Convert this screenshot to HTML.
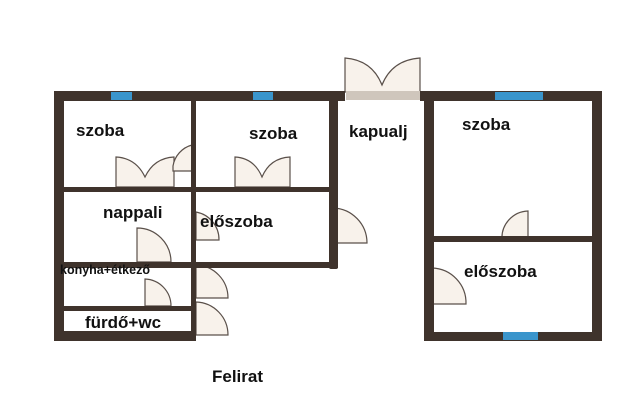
<!DOCTYPE html>
<html><head><meta charset="utf-8"><style>
html,body{margin:0;padding:0;background:#fff;width:640px;height:420px;overflow:hidden}
svg text{font-family:"Liberation Sans",sans-serif;font-weight:bold;fill:#111}
</style></head><body>
<svg width="640" height="420" viewBox="0 0 640 420" xmlns="http://www.w3.org/2000/svg">
<g fill="#f8f2eb" stroke="#5a504a" stroke-width="1.2">
<path d="M345,92 V58 Q372,60 382,85 Q392,60 420,58 V92 Z"/>
<path d="M116,187 V157 Q136,158 145,177 Q154,158 174,157 V187 Z"/>
<path d="M235,187 V157 Q254,158 262,177 Q270,158 290,157 V187 Z"/>
<path d="M192,171 V145 A26,26 0 0 0 173,166 V171 Z"/>
<path d="M137,262 V228 A34,34 0 0 1 171,262 Z"/>
<path d="M196,240 V212 A28,28 0 0 1 219,240 Z"/>
<path d="M145,306 V279 A27,27 0 0 1 171,306 Z"/>
<path d="M196,298 V265 A33,33 0 0 1 228,298 Z"/>
<path d="M196,335 V302 A33,33 0 0 1 228,335 Z"/>
<path d="M333,243 V208 A35,35 0 0 1 367,243 Z"/>
<path d="M528,240 V211 A27,27 0 0 0 502,240 Z"/>
<path d="M432,304 V268 A35,35 0 0 1 466,304 Z"/>
</g>
<rect x="346" y="91" width="74" height="9" fill="#cfc6bc"/>
<g fill="#3f332c">
<rect x="54" y="91" width="291" height="10"/>
<rect x="54" y="91" width="10" height="250"/>
<rect x="54" y="331" width="142" height="10"/>
<rect x="191" y="100" width="5" height="241"/>
<rect x="63" y="187" width="270" height="5"/>
<rect x="63" y="262" width="275" height="6"/>
<rect x="63" y="306" width="131" height="5"/>
<rect x="329" y="91" width="9" height="178" rx="2"/>
<rect x="420" y="91" width="182" height="10"/>
<rect x="424" y="91" width="10" height="250"/>
<rect x="592" y="91" width="10" height="250"/>
<rect x="424" y="332" width="178" height="9"/>
<rect x="433" y="236" width="160" height="6"/>
</g>
<g fill="#3a95cc">
<rect x="111" y="92" width="21" height="8"/>
<rect x="253" y="92" width="20" height="8"/>
<rect x="495" y="92" width="48" height="8"/>
<rect x="503" y="332" width="35" height="8"/>
</g>
<text x="76" y="136" font-size="17">szoba</text>
<text x="249" y="139" font-size="17">szoba</text>
<text x="349" y="137" font-size="17">kapualj</text>
<text x="462" y="130" font-size="17">szoba</text>
<text x="103" y="218" font-size="17">nappali</text>
<text x="200" y="227" font-size="17">előszoba</text>
<text x="60" y="274" font-size="12.5">konyha+étkező</text>
<text x="85" y="328" font-size="17">fürdő+wc</text>
<text x="464" y="277" font-size="17">előszoba</text>
<text x="212" y="382" font-size="17">Felirat</text>
</svg>
</body></html>
